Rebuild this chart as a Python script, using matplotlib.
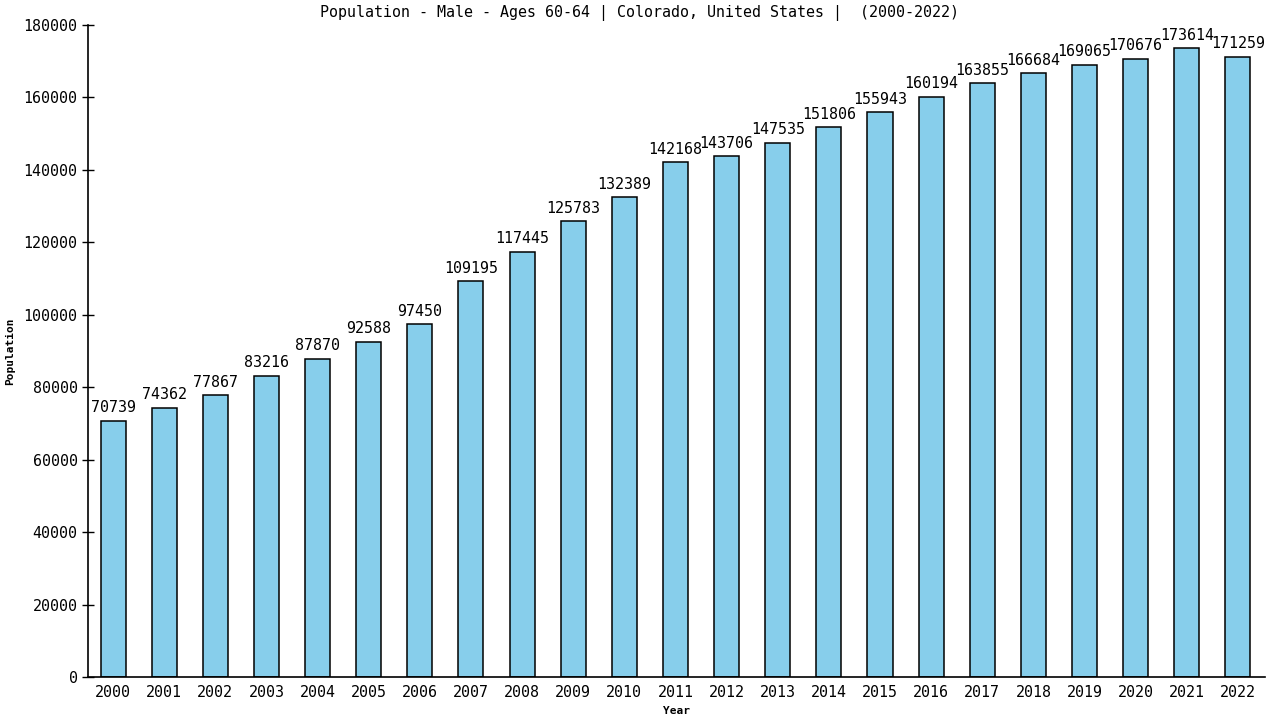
import numpy as np
import matplotlib
matplotlib.use("Agg")
import matplotlib.pyplot as plt

years = list(range(2000, 2023))
population = [70739, 74362, 77867, 83216, 87870, 92588, 97450, 109195, 117445,
              125783, 132389, 142168, 143706, 147535, 151806, 155943, 160194,
              163855, 166684, 169065, 170676, 173614, 171259]
y_ticks = list(range(0, 180001, 20000))

plt.rcParams['font.family'] = ['DejaVu Sans Mono']

fig = plt.figure(figsize=(12.8, 7.2), dpi=100)
ax = fig.add_axes([88/1280, 1 - 677/720, (1265-88)/1280, (677-25)/720])

x = np.arange(len(years))
ax.bar(x, population, width=0.49, color='#87CEEB', edgecolor='black', linewidth=1.1)

for xi, v in zip(x, population):
    ax.text(xi, v + 1500, str(v), ha='center', va='bottom', fontsize=10.8)

ax.set_xlim(-0.49, len(years) - 0.47)
ax.set_ylim(0, 180000)
ax.set_xticks(x)
ax.set_xticklabels([str(y) for y in years], fontsize=10.8)
ax.set_yticks(y_ticks)
ax.set_yticklabels([str(t) for t in y_ticks], fontsize=10.8)
ax.tick_params(axis='x', length=0, pad=6)
ax.tick_params(axis='y', direction='inout', length=8, width=1)

for s in ['top', 'right']:
    ax.spines[s].set_visible(False)
for s in ['left', 'bottom']:
    ax.spines[s].set_linewidth(1.2)

fig.text(0.5, 1 - 13/720,
         'Population - Male - Ages 60-64 | Colorado, United States |  (2000-2022)',
         ha='center', va='center', fontsize=10.8)
ax.set_xlabel('Year', fontsize=8, fontweight='bold', labelpad=4)
ax.set_ylabel('Population', fontsize=8, fontweight='bold', labelpad=6)

fig.savefig('out.png', dpi=100)
